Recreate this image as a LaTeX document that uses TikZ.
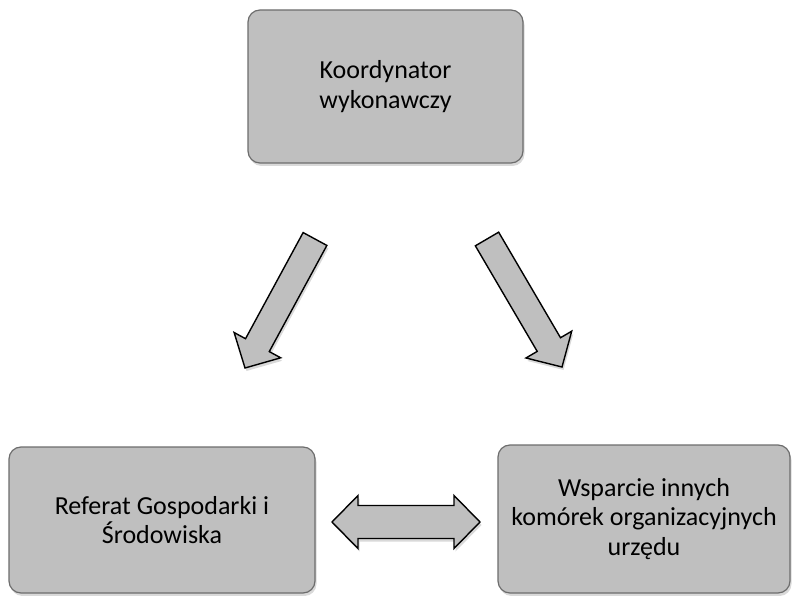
\documentclass[tikz,border=0pt]{standalone}
\usepackage{fontspec}
\setmainfont{Carlito}
\usetikzlibrary{shadows,calc}
\usepackage{xcolor}
\definecolor{boxfill}{HTML}{BFBFBF}
\definecolor{boxline}{HTML}{6D6D6D}

\tikzset{
  unit/.style={draw=boxline, fill=boxfill, line width=1.2pt, rounded corners=12pt,
    align=center, inner sep=0pt, font=\fontsize{26}{29.5}\selectfont,
    drop shadow={opacity=0.3, shadow xshift=1.5pt, shadow yshift=-3pt}},
  blockarr/.style={draw=black, fill=boxfill, line width=1.4pt, line join=miter,
    drop shadow={opacity=0.3, shadow xshift=1.5pt, shadow yshift=-3pt}}
}

% #1 = tail, #2 = tip
\newcommand{\blockarrow}[2]{%
  \coordinate (hb) at ($(#2)!26pt!(#1)$);
  \draw[blockarr] ($(#1)!13.5pt!90:(#2)$) -- ($(hb)!13.5pt!-90:(#1)$)
    -- ($(hb)!26.5pt!-90:(#1)$) -- (#2) -- ($(hb)!26.5pt!90:(#1)$)
    -- ($(hb)!13.5pt!90:(#1)$) -- ($(#1)!13.5pt!-90:(#2)$) -- cycle;
}

\begin{document}
\begin{tikzpicture}[x=1pt,y=-1pt]
  \useasboundingbox (0,0) rectangle (793,596);

  \node[unit, minimum width=275pt, minimum height=153pt] (koord) at (385.5,86.5)
    {Koordynator\\wykonawczy};
  \node[unit, minimum width=306pt, minimum height=146pt] (referat) at (162,520)
    {Referat Gospodarki i\\Środowiska};
  \node[unit, minimum width=292pt, minimum height=148pt] (wsparcie) at (644,519)
    {Wsparcie innych\\komórek organizacyjnych\\urzędu};

  % arrows from the coordinator
  \coordinate (ltail) at (315,239);
  \coordinate (ltip) at (245,368);
  \coordinate (rtail) at (487,239);
  \coordinate (rtip) at (562,367);
  \blockarrow{ltail}{ltip}
  \blockarrow{rtail}{rtip}

  % two-way arrow
  \coordinate (dl) at (332,522);
  \coordinate (dr) at (480,522);
  \draw[blockarr] (dl) -- ($(dl)+(26,-26.5)$) -- ($(dl)+(26,-16.5)$)
    -- ($(dr)+(-26,-16.5)$) -- ($(dr)+(-26,-26.5)$) -- (dr)
    -- ($(dr)+(-26,26.5)$) -- ($(dr)+(-26,16.5)$) -- ($(dl)+(26,16.5)$)
    -- ($(dl)+(26,26.5)$) -- cycle;
\end{tikzpicture}
\end{document}
